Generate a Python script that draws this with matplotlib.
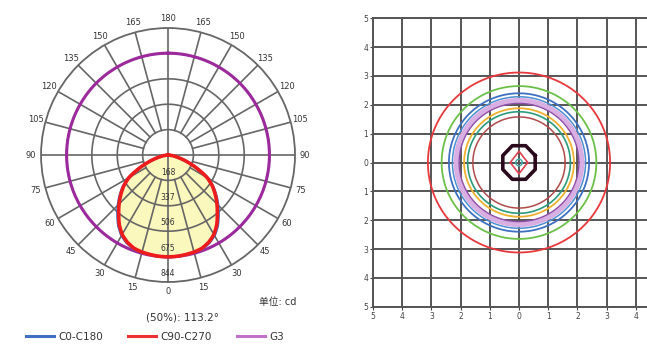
import numpy as np
import matplotlib.pyplot as plt
from matplotlib.lines import Line2D

plt.rcParams['font.family'] = ['DejaVu Sans', 'Noto Sans CJK SC']

# polar intensity data (cd), angles in degrees from nadir
angles = [0, 5, 10, 15, 20, 25, 30, 35, 40, 45, 50, 55, 60, 65, 70, 75, 80, 85, 90]
c90_c270 = [677, 676, 672, 668, 660, 640, 610, 565, 510, 460, 410, 360, 300, 215, 140, 80, 40, 12, 0]
c0_c180 = [677, 676, 673, 670, 664, 646, 618, 575, 522, 470, 418, 365, 303, 217, 141, 81, 40, 12, 0]
g3_angles = [0, 15, 30, 45, 60, 75, 90, 105, 120, 135, 150, 165, 180]
g3 = [677, 676, 675, 674, 674, 674, 674, 674, 674, 675, 675, 676, 677]
ring_values = [168.8, 337.6, 506.4, 675.2, 844]
ring_labels = ['168', '337', '506', '675', '844']
angle_ticks = list(range(0, 181, 15))

# isolux diagram data (radius in m)
iso_radius = [3.12, 2.65, 2.4, 2.28, 2.15, 2.05, 1.88, 1.76, 1.58]
iso_colors = ['#e8383c', '#6cc04a', '#3f6fc0', '#4a8fd0', '#d9aee3',
              '#8e4fa8', '#f0b030', '#2a9a7a', '#b04a4a']
iso_widths = [1.3, 1.3, 1.3, 1.1, 3.8, 1.0, 1.3, 1.2, 1.1]
inner_radius = [0.6, 0.3, 0.11]
inner_sides = [8, 4, 40]
inner_colors = ['#2b0a1e', '#e04050', '#40a8a8']
inner_widths = [2.6, 1.2, 1.0]
grid_ticks = list(range(-5, 6))

fig = plt.figure(figsize=(6.47, 3.46), dpi=100)

# ---- polar curve ----
axp = fig.add_axes([0.0634, 0.185, 0.3926, 0.734], projection='polar')
axp.set_theta_zero_location('S')
axp.set_rlim(0, 844)
axp.set_xticks([])
axp.set_yticks([])
axp.grid(False)
axp.spines['polar'].set_color('#666666')
axp.spines['polar'].set_linewidth(1.3)

gc = '#666666'
full = np.linspace(0, 2 * np.pi, 361)
for rv in ring_values[:-1]:
    axp.plot(full, np.full_like(full, rv), color=gc, lw=1.2, zorder=2)
for a in range(0, 360, 15):
    th = np.radians(a)
    start = 0 if a % 90 == 0 else ring_values[0]
    axp.plot([th, th], [start, 844], color=gc, lw=1.2, zorder=2)

def mirror(ang, vals):
    th = [-a for a in ang[::-1]] + ang[1:]
    r = vals[::-1] + vals[1:]
    return np.radians(th), np.array(r)

th_r, r_r = mirror(angles, c90_c270)
th_b, r_b = mirror(angles, c0_c180)
th_g, r_g = mirror(g3_angles, g3)

patch, = axp.fill(th_r, r_r, color='#fbf8bd', zorder=1)
patch.get_path()._interpolation_steps = 40
for th, r, c, w, z in [(th_g, r_g, '#9c2a9c', 2.2, 3),
                       (th_b, r_b, '#3f6fc0', 2.0, 3),
                       (th_r, r_r, '#ee1c1c', 2.6, 4)]:
    ln, = axp.plot(th, r, color=c, lw=w, zorder=z)
    ln.get_path()._interpolation_steps = 40

for rv, lab in zip(ring_values, ring_labels):
    axp.text(0, rv - 55, lab, ha='center', va='center', fontsize=5.5,
             color='#333333', zorder=5)
for a in angle_ticks:
    for sgn in ([1] if a in (0, 180) else [1, -1]):
        axp.text(np.radians(sgn * a), 910, str(a), ha='center', va='center',
                 fontsize=6, color='#333333', clip_on=False)

fig.text(296 / 647, 1 - 302 / 346, '单位: cd', ha='right', va='center',
         fontsize=7, color='#333333')
fig.text(183 / 647, 1 - 318 / 346, '(50%): 113.2°', ha='center', va='center',
         fontsize=7.5, color='#333333')
handles = [Line2D([], [], color='#3f6fc0', lw=2.2),
           Line2D([], [], color='#ee3030', lw=2.2),
           Line2D([], [], color='#c070c8', lw=2.2)]
fig.legend(handles, ['C0-C180', 'C90-C270', 'G3'], loc='center', ncol=3,
           bbox_to_anchor=(155 / 647, 1 - 337 / 346), frameon=False,
           fontsize=7.5, handlelength=2.7, columnspacing=2.4, handletextpad=0.4,
           labelcolor='#333333')

# ---- isolux grid ----
ax = fig.add_axes([373 / 647, 39.3 / 346, 292 / 647, 288.4 / 346])
ax.set_xlim(-5, 5)
ax.set_ylim(-5, 5)
ax.set_xticks(grid_ticks)
ax.set_yticks(grid_ticks)
ax.set_xticklabels([str(abs(v)) if v < 5 else '' for v in grid_ticks])
ax.set_yticklabels([str(abs(v)) for v in grid_ticks])
ax.tick_params(labelsize=5.5, labelcolor='#444444', length=2, pad=1.5,
               color='#444444')
ax.grid(color='#555555', lw=1.4)
for s in ax.spines.values():
    s.set_color('#555555')
    s.set_linewidth(1.4)

t = np.linspace(0, 2 * np.pi, 300)
for r, c, w in zip(iso_radius, iso_colors, iso_widths):
    ax.plot(r * np.cos(t), r * np.sin(t), color=c, lw=w, zorder=3)
for r, n, c, w in zip(inner_radius, inner_sides, inner_colors, inner_widths):
    tp = np.linspace(0, 2 * np.pi, n + 1) + (np.pi / n if n == 8 else 0)
    ax.plot(r * np.cos(tp), r * np.sin(tp) * (1.3 if n == 4 else 1.05),
            color=c, lw=w, zorder=4)

fig.savefig('out.png', dpi=100)
